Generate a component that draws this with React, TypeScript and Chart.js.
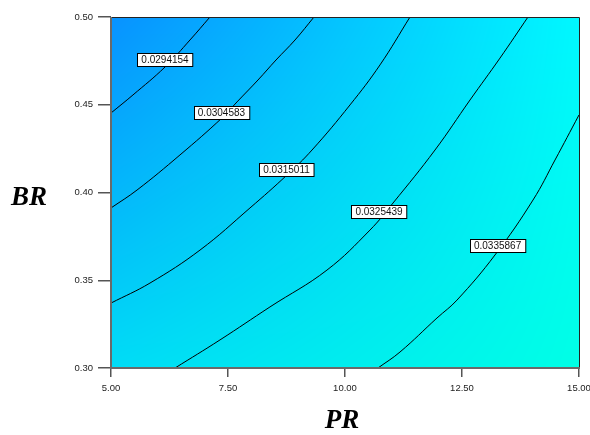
import { useEffect, useRef } from "react";
import { Chart, registerables } from "chart.js";

Chart.register(...registerables);

// Axis ranges and tick values
const prTicks = [5, 7.5, 10, 12.5, 15];
const brTicks = [0.3, 0.35, 0.4, 0.45, 0.5];

// Contour levels of the response
const contourLevels = ["0.0294154", "0.0304583", "0.0315011", "0.0325439", "0.0335867"];

// Contour traces (PR, BR)
const contour1PR = [5.0, 5.47, 6.154, 6.688, 7.115];
const contour1BR = [0.4453, 0.4556, 0.4715, 0.4869, 0.5];

const contour2PR = [5.0, 5.556, 6.474, 7.372, 7.692, 8.141, 8.526, 8.932, 9.338];
const contour2BR = [0.3912, 0.4014, 0.4214, 0.4425, 0.4516, 0.4641, 0.4755, 0.4869, 0.5];

const contour3PR = [5.0, 5.833, 6.902, 7.97, 8.761, 9.295, 10.107, 10.748, 11.389];
const contour3BR = [0.337, 0.3484, 0.3672, 0.3912, 0.41, 0.4242, 0.4499, 0.4727, 0.5];

const contour4PR = [6.368, 7.329, 8.397, 9.615, 10.534, 11.026, 11.923, 12.671, 13.312, 13.91];
const contour4BR = [0.3, 0.316, 0.3348, 0.3558, 0.3786, 0.394, 0.4242, 0.4527, 0.4766, 0.5];

const contour5PR = [10.705, 11.175, 11.966, 12.393, 13.205, 14.017, 14.487, 15.0];
const contour5BR = [0.3, 0.3091, 0.3285, 0.3387, 0.3644, 0.3957, 0.4185, 0.4442];

// Where each level's tag sits on its line
const labelPR = [6.154, 7.36, 8.75, 10.727, 13.26];
const labelBR = [0.4755, 0.4453, 0.4131, 0.3889, 0.3698];

const contourPR = [contour1PR, contour2PR, contour3PR, contour4PR, contour5PR];
const contourBR = [contour1BR, contour2BR, contour3BR, contour4BR, contour5BR];

// Colour field corners: low response (blue) to high response (aqua)
const cornerTopLeft = [8, 146, 255];
const cornerTopRight = [0, 248, 255];
const cornerBottomLeft = [0, 220, 246];
const cornerBottomRight = [0, 255, 230];

const SANS = "'Liberation Sans', Arial, sans-serif";
const SERIF = "'Liberation Serif', 'Times New Roman', serif";

const fieldPlugin = {
  id: "responseField",
  beforeDatasetsDraw(chart: any) {
    const { ctx, chartArea } = chart;
    const w = Math.round(chartArea.right - chartArea.left);
    const h = Math.round(chartArea.bottom - chartArea.top);
    const off = document.createElement("canvas");
    off.width = w;
    off.height = h;
    const octx = off.getContext("2d")!;
    const img = octx.createImageData(w, h);
    for (let j = 0; j < h; j++) {
      const v = j / (h - 1);
      for (let i = 0; i < w; i++) {
        const u = i / (w - 1);
        const k = (j * w + i) * 4;
        for (let c = 0; c < 3; c++) {
          const top = cornerTopLeft[c] * (1 - u) + cornerTopRight[c] * u;
          const bot = cornerBottomLeft[c] * (1 - u) + cornerBottomRight[c] * u;
          img.data[k + c] = Math.round(top * (1 - v) + bot * v);
        }
        img.data[k + 3] = 255;
      }
    }
    octx.putImageData(img, 0, 0);
    ctx.save();
    ctx.drawImage(off, chartArea.left, chartArea.top, w, h);
    ctx.restore();
  },
  afterDatasetsDraw(chart: any) {
    const { ctx, chartArea, scales } = chart;
    ctx.save();
    // plot frame
    ctx.strokeStyle = "#222";
    ctx.lineWidth = 1;
    ctx.beginPath();
    ctx.moveTo(chartArea.left, chartArea.top + 0.5);
    ctx.lineTo(chartArea.right + 0.5, chartArea.top + 0.5);
    ctx.lineTo(chartArea.right + 0.5, chartArea.bottom);
    ctx.stroke();
    ctx.strokeStyle = "#6a6a6a";
    ctx.lineWidth = 2;
    ctx.beginPath();
    ctx.moveTo(chartArea.left, chartArea.top);
    ctx.lineTo(chartArea.left, chartArea.bottom);
    ctx.lineTo(chartArea.right + 1, chartArea.bottom);
    ctx.stroke();

    // level tags
    ctx.font = `10px ${SANS}`;
    ctx.textAlign = "center";
    ctx.textBaseline = "middle";
    contourLevels.forEach((txt, i) => {
      const x = scales.x.getPixelForValue(labelPR[i]);
      const y = scales.y.getPixelForValue(labelBR[i]);
      const bw = ctx.measureText(txt).width + 8;
      const bh = 13;
      const bx = Math.round(x - bw / 2) + 0.5;
      const by = Math.round(y - bh / 2) + 0.5;
      ctx.fillStyle = "#ffffff";
      ctx.fillRect(bx, by, bw, bh);
      ctx.strokeStyle = "#000";
      ctx.lineWidth = 1;
      ctx.strokeRect(bx, by, bw, bh);
      ctx.fillStyle = "#111";
      ctx.fillText(txt, x, y + 0.5);
    });
    ctx.restore();
  },
  afterDraw(chart: any) {
    const { ctx } = chart;
    ctx.save();
    ctx.fillStyle = "#000";
    ctx.font = `bold italic 27px ${SERIF}`;
    ctx.textAlign = "center";
    ctx.textBaseline = "middle";
    ctx.fillText("BR", 29, 198);
    ctx.fillText("PR", 342, 421);
    ctx.restore();
  },
};

export default function App() {
  const ref = useRef<HTMLCanvasElement | null>(null);

  useEffect(() => {
    document.body.style.margin = "0";
    const canvas = ref.current!;
    const datasets = contourPR.map((xs, i) => ({
      label: contourLevels[i],
      data: xs.map((x, k) => ({ x, y: contourBR[i][k] })),
      borderColor: "#000",
      borderWidth: 1,
      pointRadius: 0,
      tension: 0.4,
      fill: false,
    }));

    const chart = new Chart(canvas, {
      type: "line",
      data: { datasets },
      plugins: [fieldPlugin],
      options: {
        responsive: false,
        animation: false,
        events: [],
        layout: { padding: { left: 0, top: 17, right: 11, bottom: 0 } },
        plugins: { legend: { display: false }, tooltip: { enabled: false } },
        scales: {
          x: {
            type: "linear",
            min: 5,
            max: 15,
            afterBuildTicks(scale: any) {
              scale.ticks = prTicks.map((v) => ({ value: v }));
            },
            afterFit(scale: any) {
              scale.height = 67;
              scale.paddingLeft = 0;
              scale.paddingRight = 0;
            },
            border: { display: false },
            grid: {
              drawOnChartArea: false,
              drawTicks: true,
              tickLength: 9,
              color: "#555",
              lineWidth: 1.5,
            },
            ticks: {
              padding: 6,
              color: "#222",
              font: { family: SANS, size: 9.5 },
              maxRotation: 0,
              callback: (v: any) => Number(v).toFixed(2),
            },
          },
          y: {
            type: "linear",
            min: 0.3,
            max: 0.5,
            afterBuildTicks(scale: any) {
              scale.ticks = brTicks.map((v) => ({ value: v }));
            },
            afterFit(scale: any) {
              scale.width = 111;
              scale.paddingTop = 0;
              scale.paddingBottom = 0;
            },
            border: { display: false },
            grid: {
              drawOnChartArea: false,
              drawTicks: true,
              tickLength: 13,
              color: "#555",
              lineWidth: 1.5,
            },
            ticks: {
              padding: 5,
              color: "#222",
              font: { family: SANS, size: 9.5 },
              callback: (v: any) => Number(v).toFixed(2),
            },
          },
        },
      },
    });
    return () => chart.destroy();
  }, []);

  return (
    <div style={{ width: 590, height: 435 }}>
      <canvas ref={ref} width={590} height={435} style={{ display: "block" }} />
    </div>
  );
}
